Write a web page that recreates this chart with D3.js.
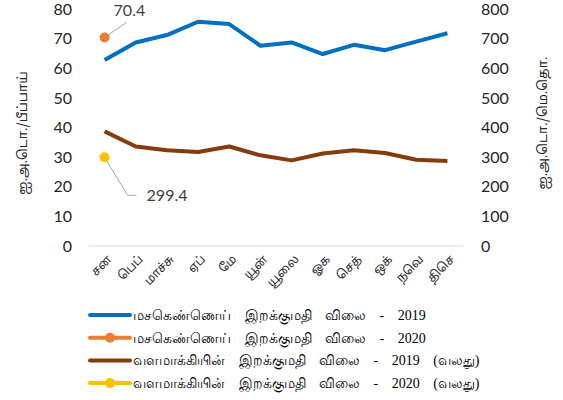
<!DOCTYPE html>
<html>
<head>
<meta charset="utf-8">
<script src="https://cdn.jsdelivr.net/npm/d3@7"></script>
<style>
  body { margin: 0; background: #fff; }
  .tick text { font-family: Lato, "Open Sans", sans-serif; }
</style>
</head>
<body>
<div class="chart"></div>
<script>
var months = [`சன`, `பெப்`, `மாச்சு`, `ஏப்`, `மே`, `யூன்`, `யூலை`, `ஓக`, `செத்`, `ஒக்`, `நவெ`, `திசெ`];
var crude2019 = [62.8, 68.7, 71.2, 75.7, 74.9, 67.6, 68.7, 64.8, 67.9, 66.1, 69.0, 71.8];
var crude2020 = [70.4];
var fert2019 = [387, 336, 323, 317, 336, 306, 289, 312, 323, 314, 291, 287];
var fert2020 = [299.4];
var leftTicks = [0, 10, 20, 30, 40, 50, 60, 70, 80];
var rightTicks = [0, 100, 200, 300, 400, 500, 600, 700, 800];
var seriesNames = [
    `மசகெண்ணெய் இறக்குமதி விலை - 2019`,
    `மசகெண்ணெய் இறக்குமதி விலை - 2020`,
    `வளமாக்கியின் இறக்குமதி விலை - 2019 (வலது)`,
    `வளமாக்கியின் இறக்குமதி விலை - 2020 (வலது)`
];
var colors = [`#0070c0`, `#ed7d31`, `#843c0c`, `#ffc000`];
var tamilFont = `"Noto Sans Tamil", "Noto Sans Tamil UI", sans-serif`;

var fullWidth = 563, fullHeight = 400;
var svg = d3.select(`.chart`)
    .append(`svg`)
    .attr(`width`, fullWidth)
    .attr(`height`, fullHeight);

var x = d3.scaleBand()
    .domain(months)
    .range([89, 463]);

var yL = d3.scaleLinear().domain([0, 80]).range([246, 9]);
var yR = d3.scaleLinear().domain([0, 800]).range([246, 9]);

function cx(d) { return x(d) + x.bandwidth() / 2; }

// baseline
svg.append(`line`)
    .attr(`x1`, 89).attr(`x2`, 463)
    .attr(`y1`, yL(0)).attr(`y2`, yL(0))
    .style(`stroke`, `#d9d9d9`)
    .style(`stroke-width`, 1);

var leftAxis = svg.append(`g`)
    .attr(`transform`, `translate(75,0)`)
    .call(d3.axisLeft(yL).tickValues(leftTicks).tickSize(0).tickPadding(3));
var rightAxis = svg.append(`g`)
    .attr(`transform`, `translate(477,0)`)
    .call(d3.axisRight(yR).tickValues(rightTicks).tickSize(0).tickPadding(4));
[leftAxis, rightAxis].forEach(a => {
    a.select(`.domain`).remove();
    a.selectAll(`text`).style(`font-size`, `16px`).style(`fill`, `#262626`);
});

var xAxis = svg.append(`g`)
    .attr(`transform`, `translate(0, ${yL(0)})`)
    .call(d3.axisBottom(x).tickSize(0).tickFormat(``));
xAxis.select(`.domain`).remove();

// rotated month labels
svg.append(`g`)
    .selectAll(`.month`)
    .data(months)
    .enter()
    .append(`g`)
    .attr(`class`, `month`)
    .attr(`transform`, d => `translate(${cx(d) + 5}, ${yL(0) + 11}) rotate(-45)`)
    .append(`text`)
    .attr(`dy`, `0.35em`)
    .style(`text-anchor`, `end`)
    .style(`font-family`, tamilFont)
    .style(`font-size`, `12px`)
    .style(`fill`, `#262626`)
    .text(d => d);

// axis titles
svg.append(`text`)
    .attr(`transform`, `translate(27,133) rotate(-90)`)
    .style(`text-anchor`, `middle`)
    .style(`font-family`, tamilFont)
    .style(`font-size`, `13px`)
    .style(`fill`, `#262626`)
    .text(`ஐ.அ.டொ./பீப்பாய்`);
svg.append(`text`)
    .attr(`transform`, `translate(547,123) rotate(-90)`)
    .style(`text-anchor`, `middle`)
    .style(`font-family`, tamilFont)
    .style(`font-size`, `13px`)
    .style(`fill`, `#262626`)
    .text(`ஐ.அ.டொ./மெ.தொ.`);

var lineL = d3.line().x((d, i) => cx(months[i])).y(d => yL(d));
var lineR = d3.line().x((d, i) => cx(months[i])).y(d => yR(d));

svg.append(`path`)
    .datum(crude2019)
    .attr(`d`, lineL)
    .style(`fill`, `none`)
    .style(`stroke`, colors[0])
    .style(`stroke-width`, 4)
    .style(`stroke-linejoin`, `round`);
svg.append(`path`)
    .datum(fert2019)
    .attr(`d`, lineR)
    .style(`fill`, `none`)
    .style(`stroke`, colors[2])
    .style(`stroke-width`, 4)
    .style(`stroke-linejoin`, `round`);

// 2020 points with leader lines
var p1x = cx(months[0]), p1y = yL(crude2020[0]);
svg.append(`polyline`)
    .attr(`points`, `${p1x},${p1y} ${p1x + 22},${p1y - 15}`)
    .style(`fill`, `none`).style(`stroke`, `#a6a6a6`).style(`stroke-width`, 1);
svg.append(`circle`)
    .attr(`cx`, p1x).attr(`cy`, p1y).attr(`r`, 5)
    .style(`fill`, colors[1]);
svg.append(`text`)
    .attr(`x`, p1x + 9).attr(`y`, p1y - 21)
    .style(`font-family`, `Lato, sans-serif`)
    .style(`font-size`, `16px`).style(`fill`, `#404040`)
    .text(crude2020[0]);

var p2x = cx(months[0]), p2y = yR(fert2020[0]);
svg.append(`polyline`)
    .attr(`points`, `${p2x},${p2y} ${p2x + 23},${p2y + 38} ${p2x + 32},${p2y + 38}`)
    .style(`fill`, `none`).style(`stroke`, `#a6a6a6`).style(`stroke-width`, 1);
svg.append(`circle`)
    .attr(`cx`, p2x).attr(`cy`, p2y).attr(`r`, 5)
    .style(`fill`, colors[3]);
svg.append(`text`)
    .attr(`x`, p2x + 42).attr(`y`, p2y + 44)
    .style(`font-family`, `Lato, sans-serif`)
    .style(`font-size`, `16px`).style(`fill`, `#404040`)
    .text(fert2020[0]);

// legend
var legend = svg.selectAll(`.legend`)
    .data(seriesNames)
    .enter()
    .append(`g`)
    .attr(`class`, `legend`)
    .attr(`transform`, (d, i) => `translate(90, ${315 + i * 22.7})`);
legend.append(`line`)
    .attr(`x1`, 0).attr(`x2`, 40)
    .style(`stroke`, (d, i) => colors[i])
    .style(`stroke-width`, 4)
    .style(`stroke-linecap`, `round`);
legend.filter((d, i) => i % 2 === 1)
    .append(`circle`)
    .attr(`cx`, 20).attr(`r`, 5)
    .style(`fill`, (d, i) => colors[i * 2 + 1]);
legend.append(`text`)
    .attr(`x`, 43).attr(`y`, 5)
    .style(`font-family`, `"Liberation Serif", serif`)
    .style(`font-size`, `14px`)
    .style(`word-spacing`, `10px`)
    .style(`fill`, `#000`)
    .text(d => d);
</script>
</body>
</html>
